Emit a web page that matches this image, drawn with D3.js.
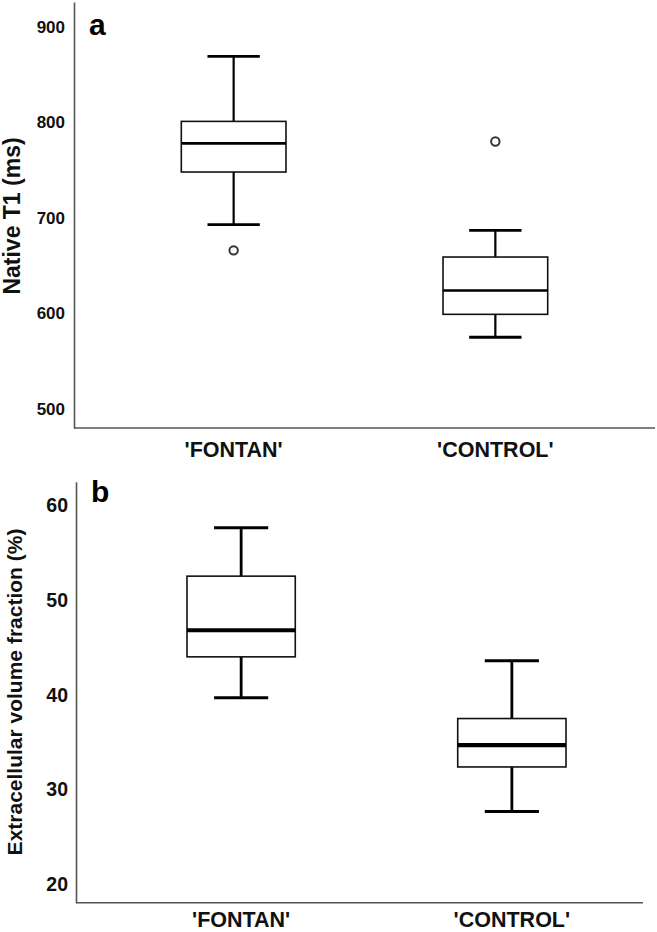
<!DOCTYPE html>
<html>
<head>
<meta charset="utf-8">
<script src="https://cdn.jsdelivr.net/npm/d3@7"></script>
<style>
  html, body { margin: 0; padding: 0; background: #fff; }
  svg { display: block; font-family: "Liberation Sans", Arial, sans-serif; }
</style>
</head>
<body>
<svg id="chart" width="657" height="932"></svg>
<script>
// ---- Data ----
const categories = ["'FONTAN'", "'CONTROL'"];

// Panel a: Native T1 (ms)
const t1Min    = [693, 575];
const t1Q1     = [748, 599];
const t1Median = [778, 624];
const t1Q3     = [801, 659];
const t1Max    = [869, 687];
const t1Outliers = [[666], [780]];
const t1Ticks  = [500, 600, 700, 800, 900];

// Panel b: Extracellular volume fraction (%)
const ecvMin    = [39.7, 27.7];
const ecvQ1     = [44.0, 32.4];
const ecvMedian = [46.8, 34.7];
const ecvQ3     = [52.5, 37.5];
const ecvMax    = [57.6, 43.6];
const ecvOutliers = [[], []];
const ecvTicks  = [20, 30, 40, 50, 60];

const svg = d3.select("#chart");

function panel(cfg) {
  const g = svg.append("g");
  const x = d3.scalePoint().domain(categories).range(cfg.xRange).padding(0.61);
  const y = d3.scaleLinear().domain(cfg.yDomain).range(cfg.yRange);
  const step = x.step();
  const boxW = step * 0.4, capW = step * 0.2;

  // y axis
  const yAxis = d3.axisLeft(y).tickValues(cfg.ticks).tickSize(0).tickSizeOuter(0).tickPadding(cfg.tickPad);
  const ya = g.append("g").attr("transform", `translate(${cfg.xRange[0]},0)`).call(yAxis);
  ya.select(".domain").attr("stroke", "#555").attr("stroke-width", 1.6);
  ya.selectAll("text").attr("fill", "#111").attr("font-weight", "bold")
    .attr("font-size", cfg.tickFont).attr("font-family", "'Liberation Sans', Arial, sans-serif");

  // x axis line
  g.append("line")
    .attr("x1", cfg.xRange[0]).attr("x2", cfg.xAxisEnd)
    .attr("y1", y.range()[0]).attr("y2", y.range()[0])
    .attr("stroke", "#555").attr("stroke-width", 1.6);

  // x labels
  g.selectAll(".xl").data(categories).join("text")
    .attr("x", d => x(d)).attr("y", y.range()[0] + cfg.xLabOff)
    .attr("text-anchor", "middle").attr("font-weight", "bold")
    .attr("font-size", 21.5).attr("fill", "#111").text(d => d);

  // y title
  g.append("text")
    .attr("transform", `translate(${cfg.titleX},${cfg.titleY}) rotate(-90)`)
    .attr("text-anchor", "middle").attr("font-weight", "bold")
    .attr("font-size", cfg.titleFont).attr("fill", "#111").text(cfg.title);

  // panel letter
  g.append("text").attr("x", cfg.xRange[0] + 15).attr("y", y.range()[1] + cfg.letterOff)
    .attr("font-weight", "bold").attr("font-size", 30).attr("fill", "#000").text(cfg.letter);

  categories.forEach((c, i) => {
    const cx = x(c);
    const bg = g.append("g");
    // whiskers
    bg.append("line").attr("x1", cx).attr("x2", cx).attr("y1", y(cfg.max[i])).attr("y2", y(cfg.q3[i]))
      .attr("stroke", "#000").attr("stroke-width", cfg.whiskW);
    bg.append("line").attr("x1", cx).attr("x2", cx).attr("y1", y(cfg.q1[i])).attr("y2", y(cfg.min[i]))
      .attr("stroke", "#000").attr("stroke-width", cfg.whiskW);
    // caps
    [cfg.max[i], cfg.min[i]].forEach(v => {
      bg.append("line").attr("x1", cx - capW / 2).attr("x2", cx + capW / 2)
        .attr("y1", y(v)).attr("y2", y(v)).attr("stroke", "#000").attr("stroke-width", cfg.capW);
    });
    // box
    bg.append("rect").attr("x", cx - boxW / 2).attr("width", boxW)
      .attr("y", y(cfg.q3[i])).attr("height", y(cfg.q1[i]) - y(cfg.q3[i]))
      .attr("fill", "#fff").attr("stroke", "#111").attr("stroke-width", 1.6);
    // median
    bg.append("line").attr("x1", cx - boxW / 2).attr("x2", cx + boxW / 2)
      .attr("y1", y(cfg.median[i])).attr("y2", y(cfg.median[i]))
      .attr("stroke", "#000").attr("stroke-width", cfg.medW);
    // outliers
    cfg.outliers[i].forEach(v => {
      bg.append("circle").attr("cx", cx).attr("cy", y(v)).attr("r", 4.2)
        .attr("fill", "#fff").attr("stroke", "#333").attr("stroke-width", 2);
    });
  });
}

panel({
  xRange: [74, 655], xAxisEnd: 655,
  yDomain: [480, 926], yRange: [428, 2],
  ticks: t1Ticks, tickPad: 9, tickFont: 17,
  min: t1Min, q1: t1Q1, median: t1Median, q3: t1Q3, max: t1Max, outliers: t1Outliers,
  title: "Native T1 (ms)", titleX: 20, titleY: 216, titleFont: 23,
  letter: "a", letterOff: 33, xLabOff: 29,
  whiskW: 2.2, capW: 2.8, medW: 2.6
});

panel({
  xRange: [76, 677], xAxisEnd: 643,
  yDomain: [18.1, 62.45], yRange: [902.7, 481.7],
  ticks: ecvTicks, tickPad: 8, tickFont: 19.5,
  min: ecvMin, q1: ecvQ1, median: ecvMedian, q3: ecvQ3, max: ecvMax, outliers: ecvOutliers,
  title: "Extracellular volume fraction (%)", titleX: 22, titleY: 692, titleFont: 21,
  letter: "b", letterOff: 20, xLabOff: 24.5,
  whiskW: 2.8, capW: 3, medW: 4.2
});
</script>
</body>
</html>
